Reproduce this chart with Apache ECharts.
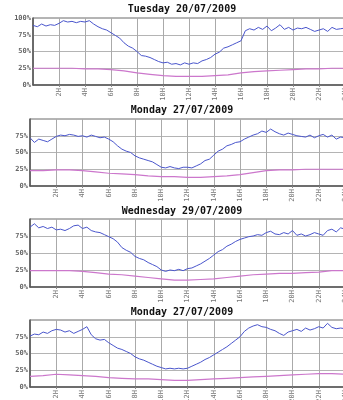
<!DOCTYPE html>
<html>
<head>
<meta charset="utf-8">
<script src="https://cdn.jsdelivr.net/npm/echarts@6/dist/echarts.min.js"></script>
<style>
  html, body { margin: 0; padding: 0; background: #fff; }
  #main { width: 343px; height: 400px; }
</style>
</head>
<body>
<div id="main"></div>
<script>
// titles of the four days
var dayTitles = ['Tuesday 20/07/2009', 'Monday 27/07/2009', 'Wednesday 29/07/2009', 'Monday 27/07/2009'];

// blue line, one value every 20 minutes (0h .. 24h)
var blueTue20 = [89, 87, 91, 88, 90, 89, 92, 96, 94, 95, 93, 95, 94, 96, 91, 87, 84, 82,
  78, 74, 70, 63, 58, 55, 50, 44, 43, 41, 38, 35, 33, 34, 31, 32, 30, 33, 31, 33, 32,
  36, 38, 41, 46, 49, 55, 57, 60, 63, 66, 81, 84, 82, 86, 83, 88, 81, 85, 90, 83, 86,
  82, 85, 84, 86, 83, 80, 82, 84, 80, 86, 83, 84, 85];
var blueMon27a = [72, 65, 70, 68, 66, 70, 74, 76, 75, 77, 76, 74, 75, 73, 76, 74, 72, 73,
  70, 66, 60, 55, 52, 50, 45, 42, 40, 38, 36, 32, 28, 27, 29, 27, 26, 28, 28, 27, 30,
  33, 38, 40, 46, 52, 55, 60, 62, 65, 66, 70, 73, 76, 78, 82, 80, 85, 81, 78, 76, 79,
  77, 75, 74, 73, 76, 72, 75, 77, 73, 76, 70, 73, 72];
var blueWed29 = [88, 93, 87, 89, 86, 88, 84, 85, 83, 86, 90, 91, 86, 88, 83, 81, 80, 77,
  74, 71, 66, 58, 54, 51, 45, 42, 40, 36, 33, 30, 25, 23, 25, 24, 26, 24, 27, 28, 31,
  34, 38, 42, 47, 52, 55, 60, 63, 67, 70, 72, 74, 75, 77, 76, 80, 82, 78, 77, 80, 78,
  83, 76, 78, 75, 77, 80, 78, 76, 83, 85, 81, 87, 85];
var blueMon27b = [76, 79, 78, 82, 80, 84, 86, 85, 82, 84, 80, 83, 86, 90, 78, 72, 70, 71,
  66, 62, 58, 56, 53, 50, 45, 42, 40, 37, 34, 31, 29, 27, 28, 27, 28, 27, 28, 31, 34,
  37, 41, 44, 48, 52, 56, 60, 65, 70, 75, 83, 88, 91, 93, 90, 89, 86, 84, 80, 77, 82,
  84, 86, 83, 88, 85, 87, 90, 88, 95, 89, 87, 88, 87];

// pink line, one value per hour (0h .. 24h)
var pinkTue20 = [25, 25, 25, 25, 24, 24, 23, 21, 18, 16, 14, 13, 13, 13, 14, 15, 18, 20, 21, 22, 23, 24, 24, 25, 25];
var pinkMon27a = [23, 23, 24, 24, 23, 21, 19, 18, 17, 15, 14, 14, 13, 13, 14, 15, 17, 20, 23, 24, 24, 25, 25, 25, 25];
var pinkWed29 = [24, 24, 24, 24, 23, 21, 19, 18, 16, 14, 12, 10, 10, 11, 12, 14, 16, 18, 19, 20, 20, 21, 22, 24, 24];
var pinkMon27b = [16, 17, 19, 18, 17, 16, 14, 13, 12, 12, 11, 10, 10, 11, 12, 13, 14, 15, 16, 17, 18, 19, 20, 20, 19];

var blueSets = [blueTue20, blueMon27a, blueWed29, blueMon27b];
var pinkSets = [pinkTue20, pinkMon27a, pinkWed29, pinkMon27b];

// plot boxes run a little past the right edge of the picture
var panels = [
  { top: 18, height: 67, left: 33, width: 312, titleY: 9 },
  { top: 119, height: 67, left: 30, width: 315, titleY: 110 },
  { top: 219, height: 68, left: 30, width: 315, titleY: 211 },
  { top: 320, height: 67, left: 30, width: 315, titleY: 312 }
];

// pair each reading with its hour of the day
function withHours(values, perHour) {
  return values.map(function (v, i) { return [i / perHour, v]; });
}

var chart = echarts.init(document.getElementById('main'));
var grids = [], xAxes = [], yAxes = [], series = [], graphics = [];

panels.forEach(function (p, i) {
  grids.push({
    left: p.left, width: p.width, top: p.top, height: p.height,
    outerBoundsMode: 'none',
    show: true, borderColor: '#6a6a6a', borderWidth: 1, backgroundColor: '#fff'
  });
  xAxes.push({
    type: 'value', gridIndex: i, min: 0, max: 24, interval: 2,
    axisLine: { lineStyle: { color: '#555', width: 1.5 } },
    axisTick: { show: true, length: 2, lineStyle: { color: '#888' } },
    splitLine: { show: true, lineStyle: { color: '#aaa', width: 1 } },
    axisLabel: {
      rotate: 90, fontSize: 7, fontFamily: 'DejaVu Sans Mono', color: '#777',
      margin: 3, showMinLabel: false,
      formatter: function (v) { return v + 'H'; }
    }
  });
  yAxes.push({
    type: 'value', gridIndex: i, min: 0, max: 100, interval: 25,
    axisLine: { show: true, lineStyle: { color: '#555', width: 1.5 } },
    axisTick: { show: false },
    splitLine: { show: true, lineStyle: { color: '#b4b4b4', width: 1 } },
    axisLabel: {
      fontSize: 7, fontFamily: 'DejaVu Sans Mono', fontWeight: 'bold', color: '#666',
      margin: 2, showMaxLabel: i === 0,
      formatter: '{value}%'
    }
  });
  series.push({
    type: 'line', xAxisIndex: i, yAxisIndex: i, symbol: 'none',
    data: withHours(pinkSets[i], 1),
    lineStyle: { color: '#cc77cc', width: 1.2 }
  });
  series.push({
    type: 'line', xAxisIndex: i, yAxisIndex: i, symbol: 'none',
    data: withHours(blueSets[i], 3),
    lineStyle: { color: '#4a56cc', width: 1 }
  });
  graphics.push({
    type: 'text', x: 182, y: p.titleY,
    style: {
      text: dayTitles[i], fill: '#111', textAlign: 'center', textVerticalAlign: 'middle',
      font: 'bold 10px "DejaVu Sans Mono"'
    }
  });
});

chart.setOption({
  backgroundColor: '#fff',
  animation: false,
  grid: grids,
  xAxis: xAxes,
  yAxis: yAxes,
  series: series,
  graphic: graphics
});
</script>
</body>
</html>
